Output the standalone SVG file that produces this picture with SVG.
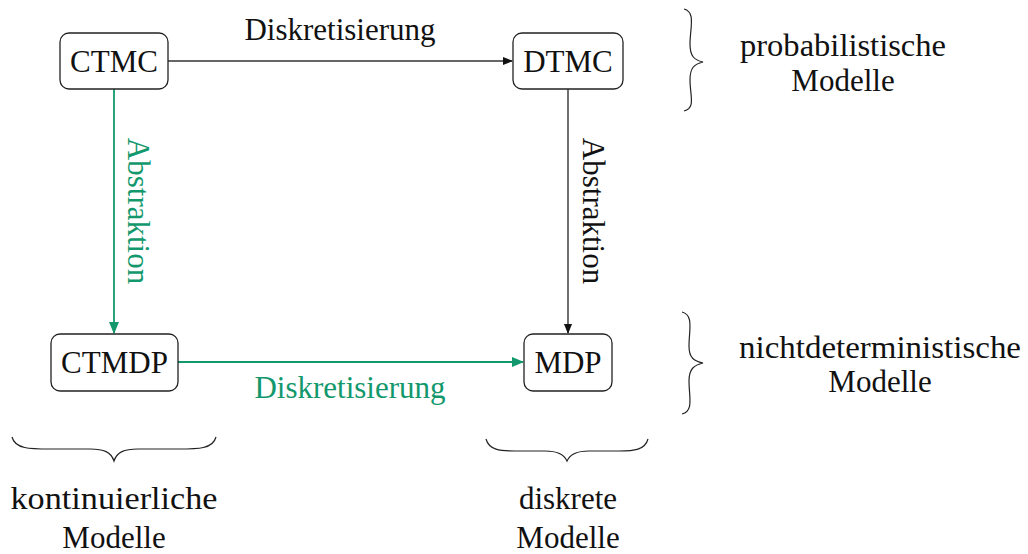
<svg xmlns="http://www.w3.org/2000/svg" width="1028" height="554" viewBox="0 0 1028 554">
  <style>
    .box { fill: #fff; stroke: #222; stroke-width: 1.3; }
    .lbl { font-family: "Liberation Serif", "Times New Roman", serif; font-size: 31px; fill: #111; text-anchor: middle; }
    .green { fill: #12986c; }
    .edge { fill: none; stroke-width: 1.4; }
    .blk { stroke: #333; }
    .grn { stroke: #12986c; stroke-width: 1.8; }
    .brace { fill: none; stroke: #222; stroke-width: 1.2; }
  </style>
  <defs>
    <marker id="ahBlack" markerWidth="10" markerHeight="8" refX="9" refY="4" orient="auto" markerUnits="userSpaceOnUse">
      <path d="M0,0 L10,4 L0,8 Z" fill="#111"/>
    </marker>
    <marker id="ahGreen" markerWidth="12" markerHeight="10" refX="11" refY="5" orient="auto" markerUnits="userSpaceOnUse">
      <path d="M0,0 L12,5 L0,10 Z" fill="#12986c"/>
    </marker>
  </defs>
  <rect width="1028" height="554" fill="#fff"/>

  <!-- connectors -->
  <g id="edges">
    <line class="edge blk" x1="168" y1="61" x2="512" y2="61" marker-end="url(#ahBlack)"/>
    <text class="lbl" x="340" y="40">Diskretisierung</text>
    <line class="edge grn" x1="114" y1="89" x2="114" y2="333" marker-end="url(#ahGreen)"/>
    <text class="lbl green" transform="translate(128,211) rotate(90)">Abstraktion</text>
    <line class="edge blk" x1="568" y1="89" x2="568" y2="333" marker-end="url(#ahBlack)"/>
    <text class="lbl" transform="translate(583,211) rotate(90)">Abstraktion</text>
    <line class="edge grn" x1="178" y1="362" x2="523" y2="362" marker-end="url(#ahGreen)"/>
    <text class="lbl green" x="350" y="398">Diskretisierung</text>
  </g>

  <!-- nodes -->
  <g id="ctmc">
    <rect class="box" x="60" y="33" width="108" height="56" rx="9"/>
    <text class="lbl" x="114" y="72">CTMC</text>
  </g>
  <g id="dtmc">
    <rect class="box" x="513" y="33" width="110" height="56" rx="9"/>
    <text class="lbl" x="568" y="72">DTMC</text>
  </g>
  <g id="ctmdp">
    <rect class="box" x="51" y="334" width="127" height="57" rx="9"/>
    <text class="lbl" x="114.5" y="373">CTMDP</text>
  </g>
  <g id="mdp">
    <rect class="box" x="524" y="334" width="88" height="57" rx="9"/>
    <text class="lbl" x="568" y="373">MDP</text>
  </g>

  <!-- group braces and their captions -->
  <g id="probabilistisch">
    <path class="brace" d="M684,9 C696,12 690,28 690,44 C690,56 694,60 703,62 C694,64 690,68 690,80 C690,96 696,108 684,111"/>
    <text class="lbl" x="843" y="56" textLength="206" lengthAdjust="spacingAndGlyphs">probabilistische</text>
    <text class="lbl" x="843" y="91">Modelle</text>
  </g>
  <g id="nichtdeterministisch">
    <path class="brace" d="M682,312 C694,315 689,330 689,346 C689,358 694,361 703,363 C694,365 689,369 689,381 C689,397 694,411 682,414"/>
    <text class="lbl" x="880" y="358" textLength="282" lengthAdjust="spacingAndGlyphs">nichtdeterministische</text>
    <text class="lbl" x="880" y="392">Modelle</text>
  </g>
  <g id="kontinuierlich">
    <path class="brace" d="M12,437 C15,449 30,449 50,449 L90,449 C104,449 111,452 114,461 C117,452 124,449 138,449 L178,449 C198,449 213,449 216,437"/>
    <text class="lbl" x="114" y="509" textLength="207" lengthAdjust="spacingAndGlyphs">kontinuierliche</text>
    <text class="lbl" x="114" y="548">Modelle</text>
  </g>
  <g id="diskret">
    <path class="brace" d="M486,439 C489,450 500,451 515,451 L545,451 C557,451 564,454 567,461 C570,454 577,451 589,451 L619,451 C634,451 645,450 648,439"/>
    <text class="lbl" x="568" y="509">diskrete</text>
    <text class="lbl" x="568" y="548">Modelle</text>
  </g>
</svg>
